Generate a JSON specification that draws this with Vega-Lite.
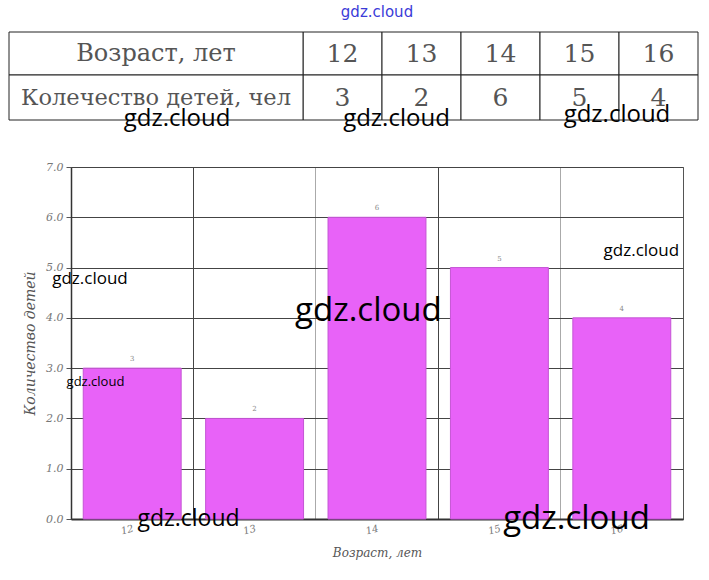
{
  "$schema": "https://vega.github.io/schema/vega-lite/v6.json",
  "padding": {"left": 8, "top": 4, "right": 8, "bottom": 4},
  "background": "white",
  "width": 612,
  "height": 352,
  "title": {"text": "gdz.cloud", "color": "#3b3bd8", "fontSize": 15, "font": "DejaVu Sans", "fontWeight": "normal", "anchor": "middle", "offset": 12},
  "config": {"view": {"stroke": "#555", "strokeWidth": 1}},
  "datasets": {
    "kids": [
      {"age": "12", "count": 3},
      {"age": "13", "count": 2},
      {"age": "14", "count": 6},
      {"age": "15", "count": 5},
      {"age": "16", "count": 4}
    ],
    "tableKids": [
      {"age": 12, "count": 3},
      {"age": 13, "count": 2},
      {"age": 14, "count": 6},
      {"age": 15, "count": 5},
      {"age": 16, "count": 4}
    ],
    "marksTableA": [
      {"pos": 9.905, "level": 7.955, "text": "gdz.cloud"},
      {"pos": 12.683, "level": 7.955, "text": "gdz.cloud"},
      {"pos": 15.474, "level": 8.034, "text": "gdz.cloud"}
    ],
    "marksSmall": [
      {"pos": 11.655, "level": 4.77, "text": "gdz.cloud"},
      {"pos": 16.16, "level": 5.33, "text": "gdz.cloud"}
    ],
    "marksTiny": [
      {"pos": 11.7, "level": 2.72, "text": "gdz.cloud"}
    ],
    "marksMid": [
      {"pos": 12.46, "level": 0.0, "text": "gdz.cloud"}
    ],
    "marksBig": [
      {"pos": 13.93, "level": 4.13, "text": "gdz.cloud"},
      {"pos": 15.63, "level": 0.0, "text": "gdz.cloud"}
    ]
  },
  "layer": [
    {
      "data": {"name": "kids"},
      "layer": [
        {
          "mark": {"type": "bar", "fill": "#E862F8", "stroke": "#c455d4", "strokeWidth": 1},
          "encoding": {
            "x": {
              "field": "age", "type": "nominal", "sort": null,
              "scale": {"paddingInner": 0.2, "paddingOuter": 0.1},
              "axis": {
                "title": "Возраст, лет", "titleFont": "DejaVu Serif", "titleFontStyle": "italic", "titleFontWeight": "normal", "titleFontSize": 12, "titleColor": "#555", "titlePadding": 12,
                "labelFont": "DejaVu Serif", "labelFontStyle": "italic", "labelFontSize": 10, "labelColor": "#777", "labelAngle": -15, "labelPadding": 4,
                "bandPosition": -0.125,
                "ticks": false, "grid": true, "gridWidth": 1,
                "gridColor": {"condition": {"test": "datum.value === '13' || datum.value === '15'", "value": "#444"}, "value": "#aaa"},
                "domain": true, "domainColor": "#333", "domainWidth": 2
              }
            },
            "y": {
              "field": "count", "type": "quantitative",
              "scale": {"domain": [0, 7]},
              "title": "Количество детей",
              "axis": {
                "titleFont": "DejaVu Serif", "titleFontStyle": "italic", "titleFontWeight": "normal", "titleFontSize": 14, "titleColor": "#555", "titlePadding": 8,
                "values": [0, 0.5, 1, 1.5, 2, 2.5, 3, 3.5, 4, 4.5, 5, 5.5, 6, 6.5, 7],
                "format": ".1f",
                "labelFont": "DejaVu Serif", "labelFontStyle": "italic", "labelFontSize": 11, "labelColor": "#777", "labelPadding": 3,
                "ticks": true, "tickSize": 5, "tickColor": "#555",
                "grid": true, "gridWidth": 1,
                "gridColor": {"condition": {"test": "datum.value % 1 === 0", "value": "#444"}, "value": "#aaa"},
                "domain": true, "domainColor": "#333", "domainWidth": 1.5
              }
            }
          }
        },
        {
          "mark": {"type": "text", "fontSize": 7, "color": "#888", "dy": -9, "font": "DejaVu Serif"},
          "encoding": {
            "x": {"field": "age", "type": "nominal", "sort": null},
            "y": {"field": "count", "type": "quantitative"},
            "text": {"field": "count"}
          }
        }
      ]
    },
    {
      "layer": [
        {
          "data": {"name": "tableKids"},
          "mark": {"type": "rect", "fill": "white", "stroke": "#222", "strokeWidth": 1, "width": 79, "height": 43},
          "encoding": {
            "x": {"field": "age", "type": "quantitative", "scale": {"domain": [8.563, 16.31], "nice": false, "zero": false}, "axis": null},
            "y": {"datum": 9.257, "type": "quantitative"}
          }
        },
        {
          "data": {"name": "tableKids"},
          "mark": {"type": "rect", "fill": "white", "stroke": "#222", "strokeWidth": 1, "width": 79, "height": 45},
          "encoding": {
            "x": {"field": "age", "type": "quantitative"},
            "y": {"datum": 8.382, "type": "quantitative"}
          }
        },
        {
          "data": {"values": [{"row": "Возраст, лет"}]},
          "mark": {"type": "rect", "fill": "white", "stroke": "#222", "strokeWidth": 1, "width": 294, "height": 43},
          "encoding": {
            "x": {"datum": 9.639, "type": "quantitative"},
            "y": {"datum": 9.257, "type": "quantitative"}
          }
        },
        {
          "data": {"values": [{"row": "Колечество детей, чел"}]},
          "mark": {"type": "rect", "fill": "white", "stroke": "#222", "strokeWidth": 1, "width": 294, "height": 45},
          "encoding": {
            "x": {"datum": 9.639, "type": "quantitative"},
            "y": {"datum": 8.382, "type": "quantitative"}
          }
        },
        {
          "data": {"values": [{"row": "Возраст, лет"}]},
          "mark": {"type": "text", "font": "DejaVu Serif", "fontSize": 24, "color": "#555"},
          "encoding": {
            "x": {"datum": 9.639, "type": "quantitative"},
            "y": {"datum": 9.257, "type": "quantitative"},
            "text": {"field": "row"}
          }
        },
        {
          "data": {"values": [{"row": "Колечество детей, чел"}]},
          "mark": {"type": "text", "font": "DejaVu Serif", "fontSize": 22.5, "color": "#555"},
          "encoding": {
            "x": {"datum": 9.639, "type": "quantitative"},
            "y": {"datum": 8.382, "type": "quantitative"},
            "text": {"field": "row"}
          }
        },
        {
          "data": {"name": "tableKids"},
          "mark": {"type": "text", "font": "DejaVu Serif", "fontSize": 25, "color": "#555"},
          "encoding": {
            "x": {"field": "age", "type": "quantitative"},
            "y": {"datum": 9.257, "type": "quantitative"},
            "text": {"field": "age"}
          }
        },
        {
          "data": {"name": "tableKids"},
          "mark": {"type": "text", "font": "DejaVu Serif", "fontSize": 25, "color": "#555"},
          "encoding": {
            "x": {"field": "age", "type": "quantitative"},
            "y": {"datum": 8.382, "type": "quantitative"},
            "text": {"field": "count"}
          }
        },
        {
          "data": {"name": "marksTableA"},
          "mark": {"type": "text", "font": "Open Sans", "fontSize": 24, "color": "black", "baseline": "middle"},
          "encoding": {
            "x": {"field": "pos", "type": "quantitative"},
            "y": {"field": "level", "type": "quantitative"},
            "text": {"field": "text"}
          }
        }
      ]
    },
    {
      "layer": [
        {
          "data": {"name": "marksSmall"},
          "mark": {"type": "text", "font": "Open Sans", "fontSize": 17, "color": "black", "baseline": "middle"},
          "encoding": {
            "x": {"field": "pos", "type": "quantitative", "scale": {"domain": [11.5, 16.5], "nice": false, "zero": false}, "axis": null},
            "y": {"field": "level", "type": "quantitative"},
            "text": {"field": "text"}
          }
        },
        {
          "data": {"name": "marksTiny"},
          "mark": {"type": "text", "font": "Open Sans", "fontSize": 13, "color": "black", "baseline": "middle"},
          "encoding": {
            "x": {"field": "pos", "type": "quantitative"},
            "y": {"field": "level", "type": "quantitative"},
            "text": {"field": "text"}
          }
        },
        {
          "data": {"name": "marksMid"},
          "mark": {"type": "text", "font": "Open Sans", "fontSize": 23, "color": "black", "baseline": "middle"},
          "encoding": {
            "x": {"field": "pos", "type": "quantitative"},
            "y": {"field": "level", "type": "quantitative"},
            "text": {"field": "text"}
          }
        },
        {
          "data": {"name": "marksBig"},
          "mark": {"type": "text", "font": "Open Sans", "fontSize": 33, "color": "black", "baseline": "middle"},
          "encoding": {
            "x": {"field": "pos", "type": "quantitative"},
            "y": {"field": "level", "type": "quantitative"},
            "text": {"field": "text"}
          }
        }
      ]
    }
  ],
  "resolve": {"scale": {"x": "independent"}}
}
